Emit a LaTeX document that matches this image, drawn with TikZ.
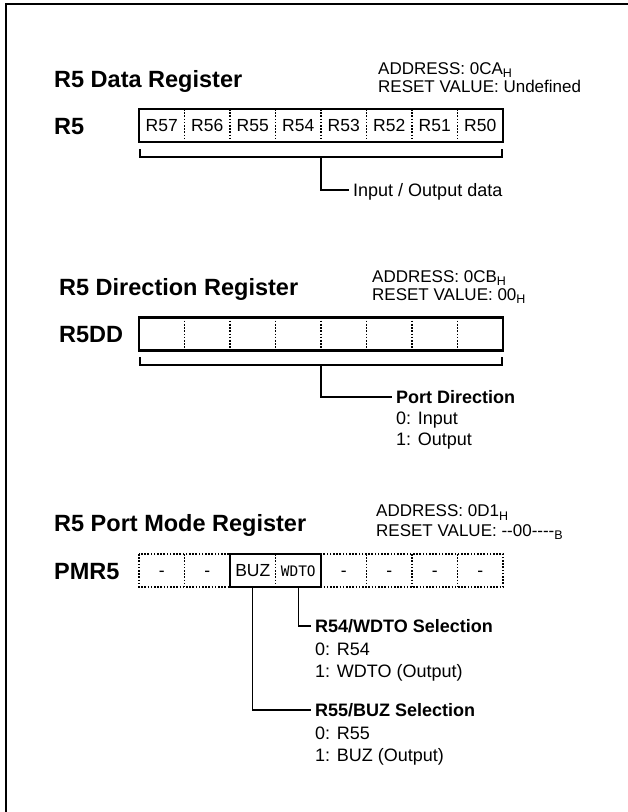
\documentclass[tikz,border=0pt]{standalone}
\usepackage{fontspec}
\setmainfont{Liberation Sans}
\newfontfamily\wdtofont{DejaVu Sans Mono}
\newcommand\hsub[1]{\raisebox{-0.4ex}{\fontsize{12.5}{13}\selectfont #1}}
\newcommand\hy{\hbox{-}}
\begin{document}
\begin{tikzpicture}[x=1pt,y=-1pt,
  ttl/.style={font=\fontsize{23.5}{27}\selectfont\bfseries,anchor=base west,inner sep=0pt},
  adr/.style={font=\fontsize{17}{19}\selectfont,anchor=base west,inner sep=0pt},
  txt/.style={font=\fontsize{18}{21}\selectfont,anchor=west,inner sep=0pt,text height=12.9pt,text depth=0pt},
  btxt/.style={txt,font=\fontsize{18}{21}\selectfont\bfseries},
  cell/.style={minimum width=45.5pt,minimum height=33pt,inner sep=0pt,outer sep=0pt,
    text height=12.6pt,text depth=0pt,font=\fontsize{17.5}{20}\selectfont},
  frame/.style={line width=2.6pt},
  regbox/.style={line width=2.8pt},
  dots/.style={line width=1.3pt,dash pattern=on 1.6pt off 1.6pt},
  lead/.style={line width=1.2pt},
]
\useasboundingbox (0,0) rectangle (628,812);
\fill[white] (0,0) rectangle (628,812);
\draw[frame] (628,4) -- (6,4) -- (6,812);

% ---------- Section 1: R5 Data Register ----------
\node[ttl] (t1) at (54,87) {R5 Data Register};
\node[adr] (ad1) at (378,74) {ADDRESS: 0CA\hsub{H}};
\node[adr] (rv1) at (378,92) {RESET VALUE: Undefined};
\node[ttl] (l1) at (54,134) {R5};
\foreach \i/\t in {0/R57,1/R56,2/R55,3/R54,4/R53,5/R52,6/R51,7/R50}
  \node[cell] (a\i) at ({139+45.5*\i+22.75},125.5) {\t};
\foreach \i in {1,...,7} \draw[dots] (a\i.north west) -- (a\i.south west);
\draw[regbox] (a0.north west) rectangle (a7.south east);
\coordinate (b1L) at (140,149);
\coordinate (b1R) at (502,149);
\coordinate (b1M) at (321,157);
\draw[lead] (b1L) |- (b1M) -| (b1R);
\node[txt] (io) at (353,190) {Input / Output data};
\draw[lead] (b1M) |- ([xshift=-4pt]io.west);

% ---------- Section 2: R5 Direction Register ----------
\node[ttl] (t2) at (59,295) {R5 Direction Register};
\node[adr] (ad2) at (372,282) {ADDRESS: 0CB\hsub{H}};
\node[adr] (rv2) at (372,300) {RESET VALUE: 00\hsub{H}};
\node[ttl] (l2) at (59,342.5) {R5DD};
\foreach \i in {0,...,7}
  \node[cell] (d\i) at ({139+45.5*\i+22.75},334) {};
\foreach \i in {1,...,7} \draw[dots] (d\i.north west) -- (d\i.south west);
\draw[regbox] (d0.north west) rectangle (d7.south east);
\coordinate (b2L) at (140,357);
\coordinate (b2R) at (502,357);
\coordinate (b2M) at (321,365);
\draw[lead] (b2L) |- (b2M) -| (b2R);
\node[btxt] (pd) at (396,397) {Port Direction};
\node[txt] (pd0) at (396,418) {0: Input};
\node[txt] (pd1) at (396,439) {1: Output};
\draw[lead] (b2M) |- ([xshift=-4pt]pd.west);

% ---------- Section 3: R5 Port Mode Register ----------
\node[ttl] (t3) at (54,531) {R5 Port Mode Register};
\node[adr] (ad3) at (376,516.5) {ADDRESS: 0D1\hsub{H}};
\node[adr] (rv3) at (376,536) {RESET VALUE: \hy\hy00\hy\hy\hy\hy\hsub{B}};
\node[ttl] (l3) at (54,579.5) {PMR5};
\foreach \i/\t in {0/-,1/-,4/-,5/-,6/-,7/-}
  \node[cell] (p\i) at ({139+45.5*\i+22.75},570.5) {\t};
\node[cell] (p2) at ({139+45.5*2+22.75},570.5) {BUZ};
\node[cell,font=\wdtofont\fontsize{14.5}{16}\selectfont] (p3) at ({139+45.5*3+22.75},570.5) {WDTO};
\draw[dots] (p0.north west) rectangle (p7.south east);
\foreach \i in {1,...,7} \draw[dots] (p\i.north west) -- (p\i.south west);
\draw[regbox] (p2.north west) rectangle (p3.south east);

\node[btxt] (ws) at (315,626) {R54/WDTO Selection};
\node[txt] (ws0) at (315,649) {0: R54};
\node[txt] (ws1) at (315,671) {1: WDTO (Output)};
\node[btxt] (bs) at (315,710) {R55/BUZ Selection};
\node[txt] (bs0) at (315,733) {0: R55};
\node[txt] (bs1) at (315,755) {1: BUZ (Output)};
\draw[lead] (p3.south) |- ([xshift=-4pt]ws.west);
\draw[lead] (p2.south) |- ([xshift=-4pt]bs.west);
\end{tikzpicture}
\end{document}
